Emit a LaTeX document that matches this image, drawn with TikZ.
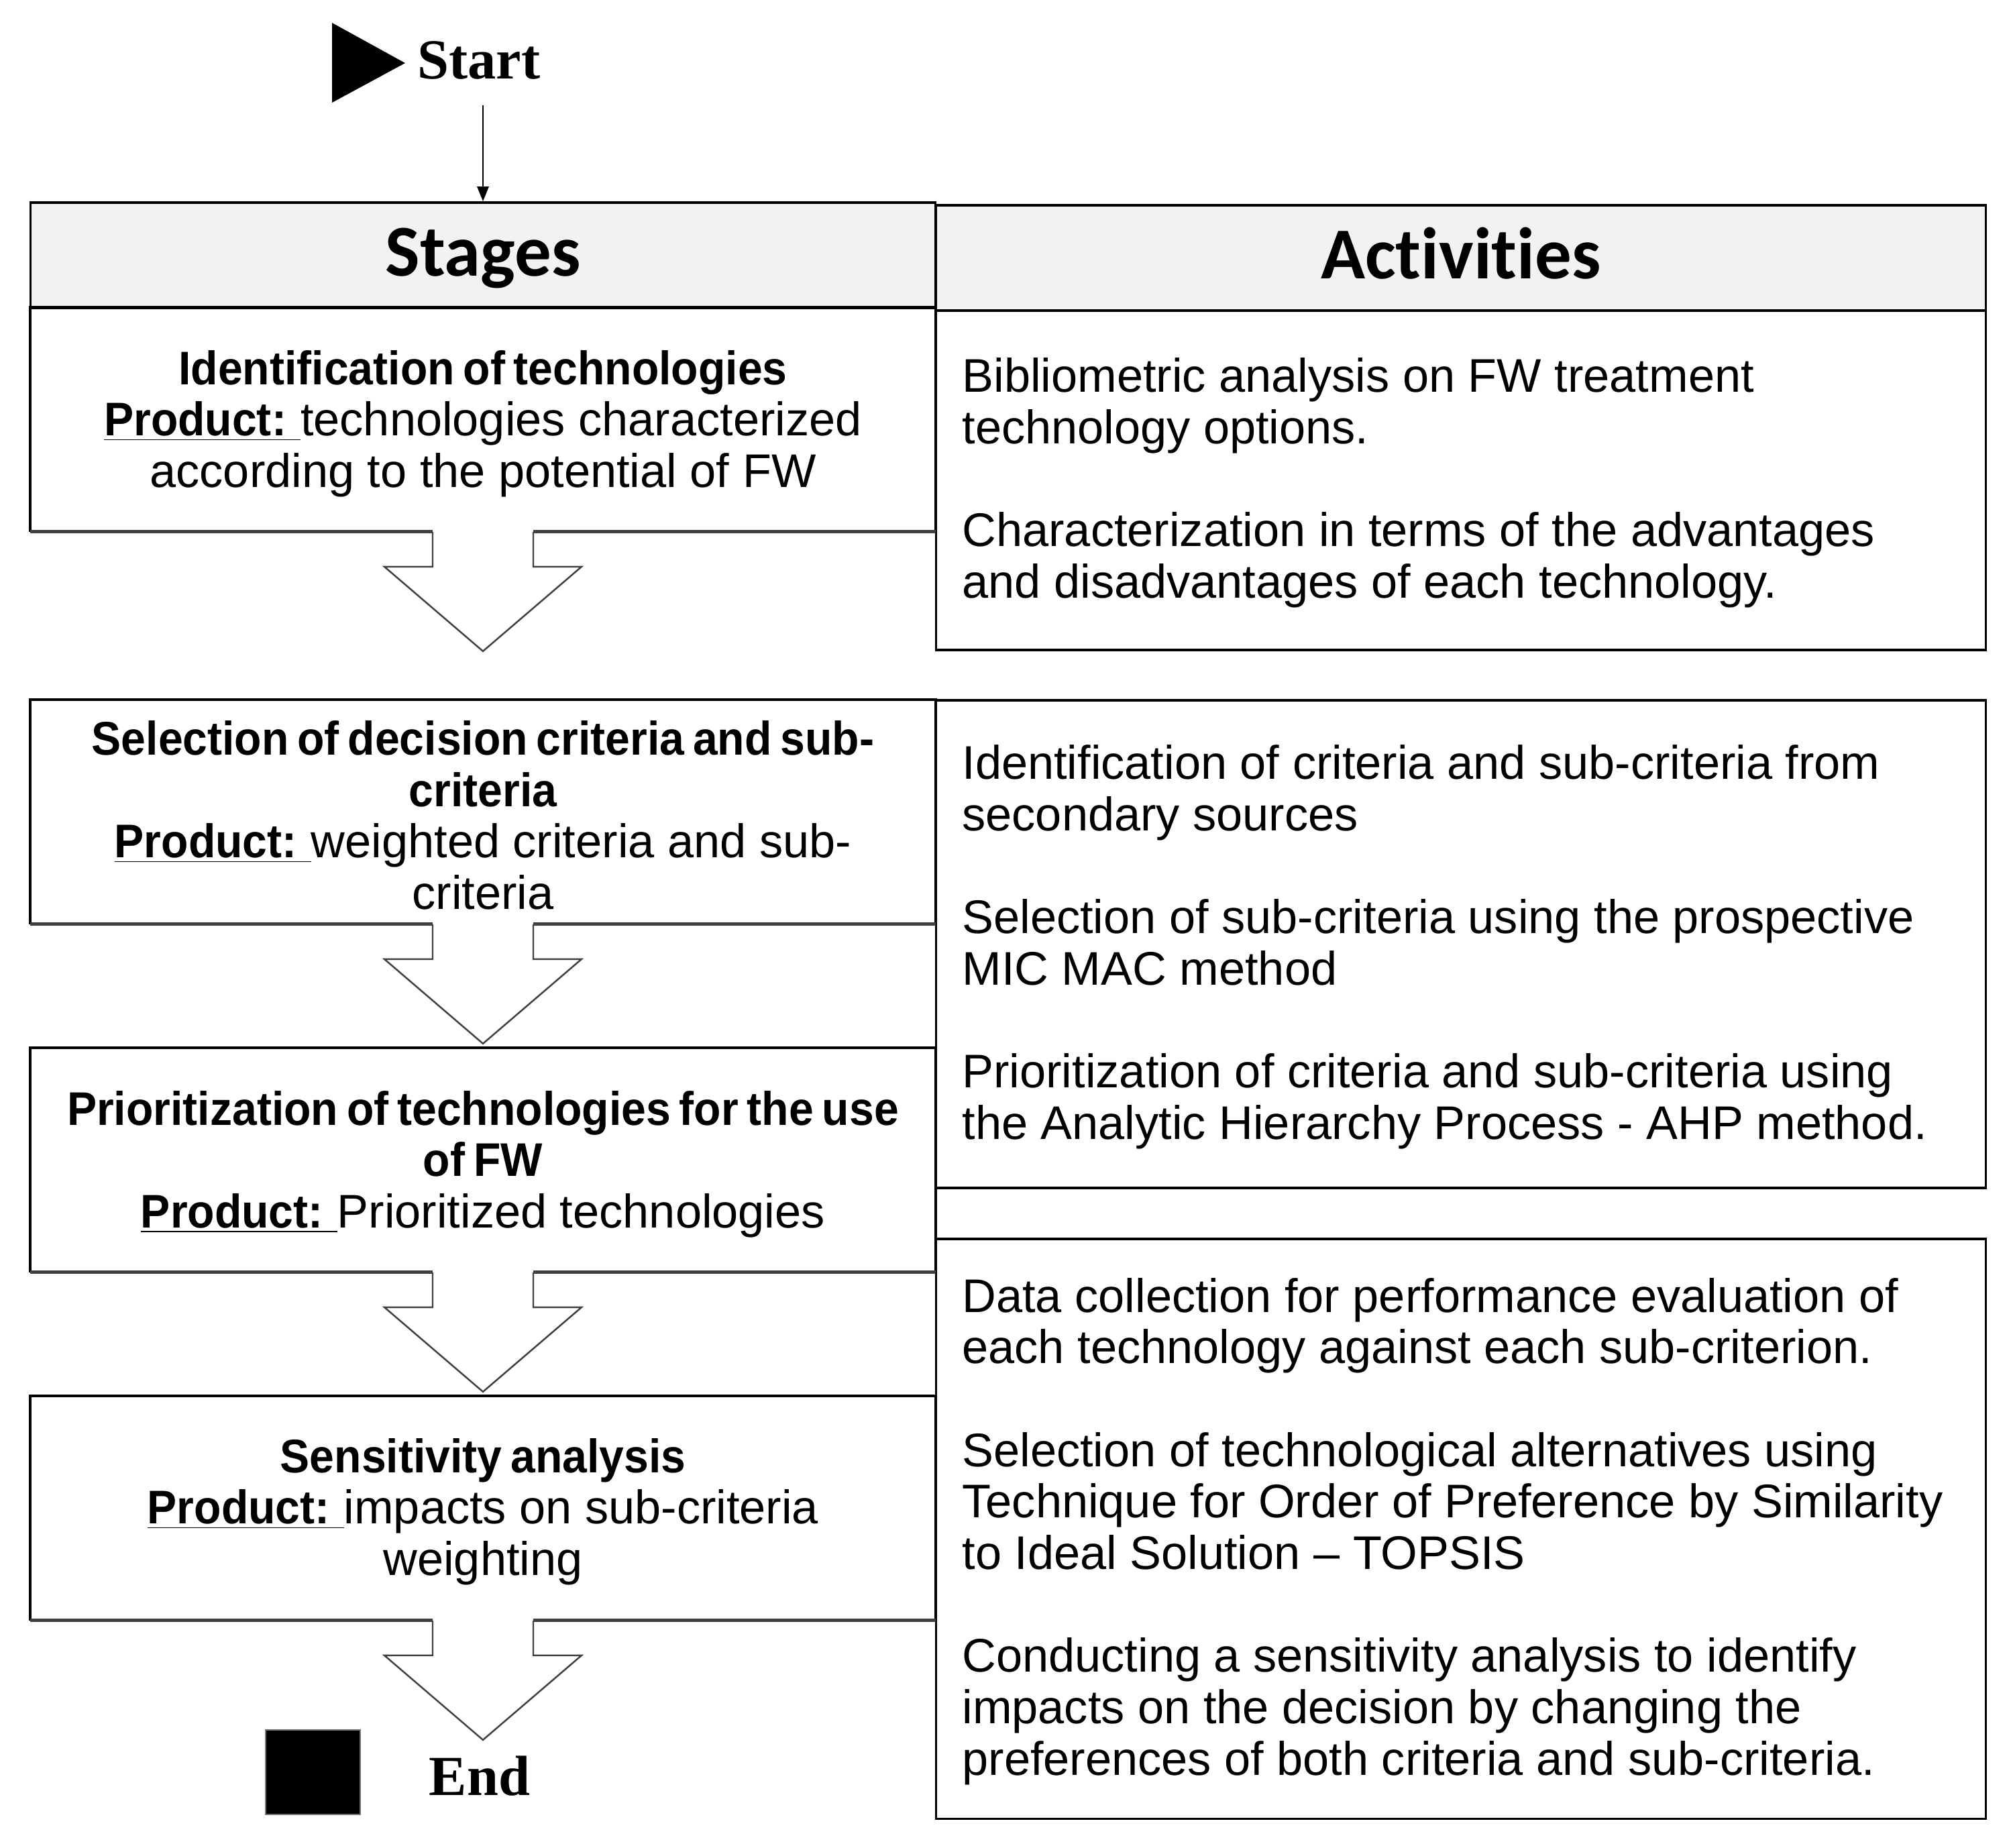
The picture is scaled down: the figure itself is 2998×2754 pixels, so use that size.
\documentclass[tikz,border=0pt]{standalone}
\usepackage{fontspec}
\setmainfont{Liberation Sans}
\newfontfamily\hdrfont{Carlito}[Ligatures=NoCommon]
\newfontfamily\ttlfont{Liberation Sans}[FakeStretch=0.94,WordSpace=0.7]
\newfontfamily\tmsfont{Liberation Serif}
\usetikzlibrary{calc,arrows.meta}
\definecolor{hdrgray}{HTML}{F2F2F2}
\definecolor{botgray}{HTML}{404040}
\newcommand\ttl[1]{{\ttlfont\bfseries #1}}
\newcommand\prd{\underline{\ttlfont\bfseries Product:\hspace{0.3em}}}
\newcommand\stageoutline[1]{%
  \draw[boxline] (#1.south west) -- (#1.north west) -- (#1.north east) -- (#1.south east);
  \draw[botline] (#1.south west) -- ($(#1.south)+(-75,0)$);
  \draw[botline] ($(#1.south)+(75,0)$) -- (#1.south east);
}
\newcommand\blockarrow[1]{%
  \draw[arrline] ($(#1.south)+(-75,0)$) -- ($(#1.south)+(-75,52)$) -- ($(#1.south)+(-147,52)$)
    -- ($(#1.south)+(0,178)$) -- ($(#1.south)+(147,52)$) -- ($(#1.south)+(75,52)$) -- ($(#1.south)+(75,0)$);
}
\begin{document}
\begin{tikzpicture}[x=0.01cm,y=-0.01cm,
  boxline/.style={draw=black,line width=1pt},
  botline/.style={draw=botgray,line width=1.5pt},
  arrline/.style={draw=black!75,line width=0.7pt,line join=miter},
  hdr/.style={draw=black,line width=1pt,fill=hdrgray,inner sep=0pt,text height=0.7cm,text depth=0.08cm,font=\hdrfont\bfseries\fontsize{31}{36}\selectfont},
  bodyfont/.style={font=\fontsize{20}{21.8}\selectfont},
  stagenode/.style={minimum width=13.48cm,minimum height=3.33cm,inner sep=0pt},
  stagetext/.style={inner sep=0pt,align=center,bodyfont},
  acttext/.style={align=left,anchor=west,inner sep=0pt,bodyfont},
  actbox/.style={draw=black,line width=1pt,minimum width=15.64cm,inner sep=0pt},
  termfont/.style={font=\tmsfont\bfseries\fontsize{24}{28}\selectfont}
]
\useasboundingbox (0,0) rectangle (2998,2754);
\fill[white] (0,0) rectangle (2998,2754);

% headers
\node[hdr,minimum width=13.48cm,minimum height=1.57cm] (stageshdr) at (720,380.5) {Stages};
\node[hdr,minimum width=15.64cm,minimum height=1.57cm] (acthdr) at (2178,384.5) {Activities};

% activity boxes
\node[actbox,minimum height=5.06cm] (act1) at (2178,716) {};
\node[actbox,minimum height=7.27cm] (act2) at (2178,1407.5) {};
\node[actbox,minimum height=8.64cm] (act3) at (2178,2279) {};

% stage boxes
\node[stagenode] (s1) at (720,625.5) {};
\node[stagenode] (s2) at (720,1210.5) {};
\node[stagenode] (s3) at (720,1729.5) {};
\node[stagenode] (s4) at (720,2248.5) {};

\node[stagetext] (t1) at ($(s1.center)+(0,6)$) {\ttl{Identification of technologies}\\ \prd technologies characterized\\ according to the potential of FW};
\node[stagetext] (t2) at ($(s2.center)+(0,5)$) {\ttl{Selection of decision criteria and sub-}\\ \ttl{criteria}\\ \prd weighted criteria and sub-\\ criteria};
\node[stagetext] (t3) at ($(s3.center)+(0,6)$) {\ttl{Prioritization of technologies for the use}\\ \ttl{of FW}\\ \prd Prioritized technologies};
\node[stagetext] (t4) at ($(s4.center)+(0,5)$) {\ttl{Sensitivity analysis}\\ \prd impacts on sub-criteria\\ weighting};

\stageoutline{s1}\stageoutline{s2}\stageoutline{s3}\stageoutline{s4}
\blockarrow{s1}\blockarrow{s2}\blockarrow{s3}\blockarrow{s4}

% activity texts
\node[acttext] (a1) at ($(act1.west)+(40,4)$) {Bibliometric analysis on FW treatment\\ technology options.\\[21.8pt] Characterization in terms of the advantages\\ and disadvantages of each technology.};
\node[acttext] (a2) at ($(act2.west)+(40,4)$) {Identification of criteria and sub-criteria from\\ secondary sources\\[21.8pt] Selection of sub-criteria using the prospective\\ MIC MAC method\\[21.8pt] Prioritization of criteria and sub-criteria using\\ the Analytic Hierarchy Process - AHP method.};
\node[acttext] (a3) at ($(act3.west)+(40,4)$) {Data collection for performance evaluation of\\ each technology against each sub-criterion.\\[21.8pt] Selection of technological alternatives using\\ Technique for Order of Preference by Similarity\\ to Ideal Solution – TOPSIS\\[21.8pt] Conducting a sensitivity analysis to identify\\ impacts on the decision by changing the\\ preferences of both criteria and sub-criteria.};

% start
\fill[black] (495,34) -- (604,94) -- (495,153) -- cycle;
\node[termfont,anchor=west,inner sep=0pt] (start) at (622,90) {Start};
\coordinate (startarr) at (720,157);
\draw[line width=0.8pt,-{Triangle[length=0.22cm,width=0.17cm]}] (startarr) -- (stageshdr.north);

% end
\node[draw=black!55,line width=0.8pt,fill=black,minimum width=1.41cm,minimum height=1.26cm,inner sep=0pt] (endsq) at (466.5,2642) {};
\node[termfont,inner sep=0pt] (endtxt) at (715,2648) {End};
\end{tikzpicture}
\end{document}
